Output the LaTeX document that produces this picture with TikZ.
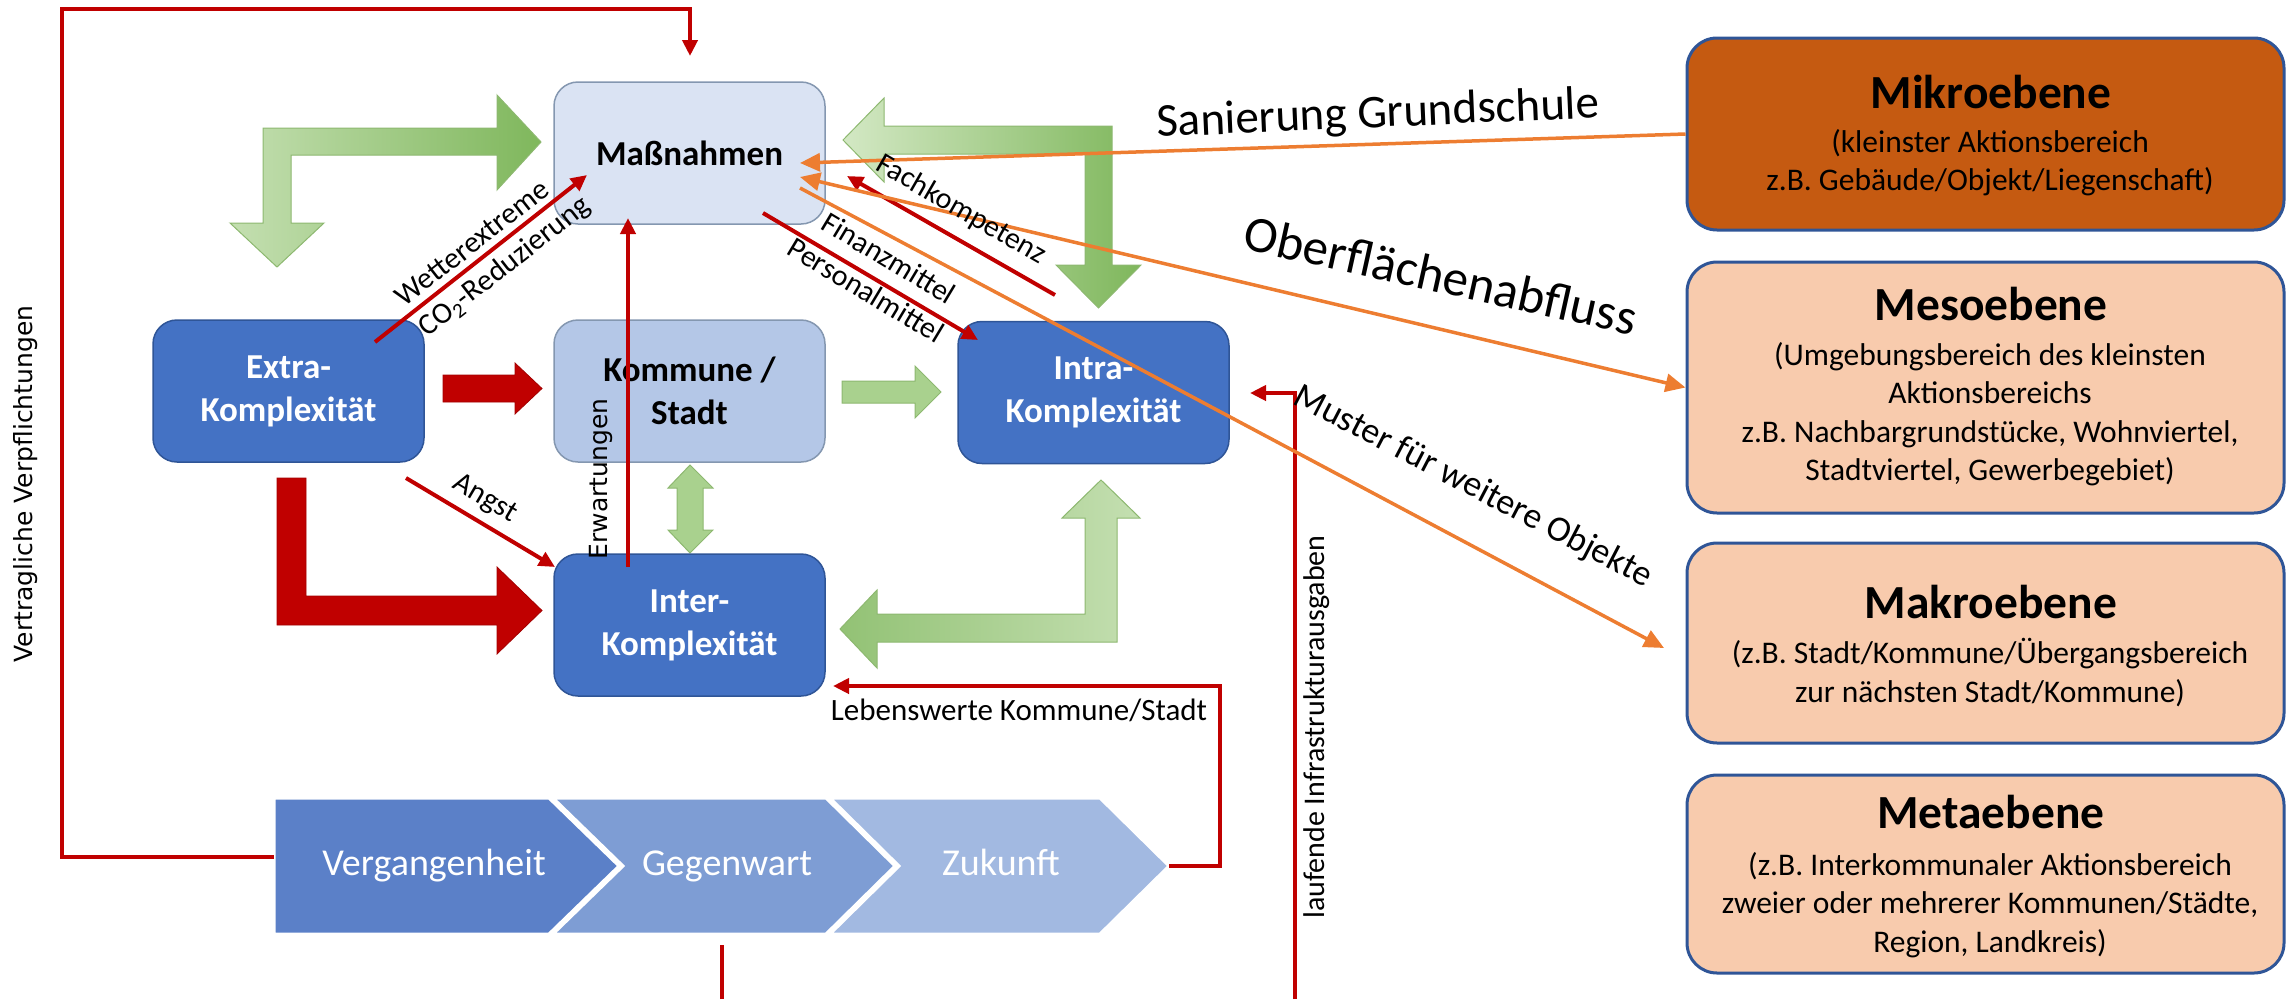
\documentclass[tikz,border=0pt]{standalone}
\usepackage{fontspec}
\setmainfont{Carlito}
\newfontfamily\dejavu{DejaVu Sans}
\usetikzlibrary{arrows.meta}
\definecolor{cred}{HTML}{C00000}
\definecolor{corange}{HTML}{ED7D31}
\definecolor{cdark}{HTML}{4472C4}
\definecolor{cdarkb}{HTML}{2F5597}
\definecolor{cmass}{HTML}{DAE3F3}
\definecolor{ckomm}{HTML}{B4C7E7}
\definecolor{cgrayb}{HTML}{8497B0}
\definecolor{cmikro}{HTML}{C55A11}
\definecolor{cpeach}{HTML}{F8CBAD}
\definecolor{gpale}{HTML}{D3E8C4}
\definecolor{glight}{HTML}{C4DFB1}
\definecolor{gmid}{HTML}{A9D18E}
\definecolor{gdark}{HTML}{7FB75C}
\definecolor{gborder}{HTML}{8DB870}
\definecolor{chevA}{HTML}{5B80C8}
\definecolor{chevB}{HTML}{7E9DD4}
\definecolor{chevC}{HTML}{A2B9E1}
\tikzset{otip/.tip={Triangle[length=20pt,width=18pt]}}
\begin{document}
\begin{tikzpicture}[x=1pt,y=-1pt,
  box/.style={rectangle, rounded corners=24pt, minimum width=271pt, minimum height=142pt,
    inner sep=0pt, align=center, font=\fontsize{35}{43}\selectfont\bfseries, line width=1.5pt},
  dbox/.style={box, fill=cdark, draw=cdarkb, text=white},
  lbox/.style={box, draw=cgrayb},
  rbox/.style={rectangle, rounded corners=30pt, minimum width=597pt, inner sep=0pt,
    draw=cdarkb, line width=3pt},
  rtitle/.style={anchor=base, font=\fontsize{47.5}{52}\selectfont\bfseries, inner sep=0pt},
  rbody/.style={anchor=base, font=\fontsize{31.5}{38}\selectfont, inner sep=0pt},
  redln/.style={draw=cred, line width=4pt, -{Triangle[length=16pt,width=15pt]}},
  redplain/.style={draw=cred, line width=4pt},
  orgln/.style={draw=corange, line width=3.5pt},
  lbl/.style={font=\fontsize{30}{36}\selectfont, inner sep=0pt},
  vlbl/.style={font=\dejavu\fontsize{25}{30}\selectfont, inner sep=0pt, rotate=90},
  garrow/.style={draw=gborder, line width=1pt},
  rarrow/.style={fill=cred, draw=cred!85!black, line width=0.8pt},
  chev/.style={draw=white, line width=3pt},
  chtext/.style={anchor=base, text=white, font=\fontsize{38}{44}\selectfont, inner sep=0pt}
]
\useasboundingbox (0,0) rectangle (2286,999);

% ---------- green block arrows ----------
\path[garrow, left color=glight, right color=gdark]
  (263,128) -- (497,128) -- (497,95) -- (541,142) -- (497,190) -- (497,155)
  -- (291,155) -- (291,223) -- (324,223) -- (277,267) -- (230,223) -- (263,223) -- cycle;
\path[garrow, left color=gpale, right color=gdark]
  (843,140) -- (884,98) -- (884,126) -- (1112,126) -- (1112,265) -- (1141,265)
  -- (1098.5,308) -- (1056,265) -- (1085,265) -- (1085,154) -- (884,154) -- (884,182) -- cycle;
\path[garrow, left color=gdark!85!white, right color=glight]
  (840,629) -- (877,590) -- (877,614) -- (1085,614) -- (1085,518) -- (1062,518)
  -- (1101,480) -- (1140,518) -- (1117,518) -- (1117,642) -- (877,642) -- (877,668) -- cycle;
\path[garrow, fill=gmid]
  (842,381) -- (915,381) -- (915,366) -- (941,392) -- (915,418) -- (915,403) -- (842,403) -- cycle;
\path[garrow, fill=gmid]
  (690,465) -- (713,488) -- (703,488) -- (703,530) -- (713,530) -- (690,553)
  -- (668,530) -- (677,530) -- (677,488) -- (668,488) -- cycle;

% ---------- red block arrows ----------
\path[rarrow] (443,375) -- (515,375) -- (515,363) -- (542,388.5) -- (515,414) -- (515,402) -- (443,402) -- cycle;
\path[rarrow] (277,478) -- (306,478) -- (306,596) -- (497,596) -- (497,567) -- (542,610.5)
  -- (497,654) -- (497,625) -- (277,625) -- cycle;

% ---------- boxes ----------
\node[lbox, fill=cmass] (mass) at (689.5,153) {Maßnahmen};
\node[lbox, fill=ckomm] (komm) at (689.5,391) {Kommune /\\Stadt};
\node[dbox] (extra) at (288.5,391) {Extra-\\Komplexität};
\node[dbox] (intra) at (1093.5,392.5) {Intra-\\Komplexität};
\node[dbox] (inter) at (689.5,625) {Inter-\\Komplexität};

\node[rbox, fill=cmikro, minimum height=192pt] (mikro) at (1985.5,134) {};
\node[rbox, fill=cpeach, minimum height=251pt] (meso) at (1985.5,387.5) {};
\node[rbox, fill=cpeach, minimum height=200pt] (makro) at (1985.5,643) {};
\node[rbox, fill=cpeach, minimum height=198pt] (meta) at (1985.5,874) {};

\node[rtitle] (mikroT) at (1991,108) {Mikroebene};
\node[rbody] (mikroA) at (1990,152) {(kleinster Aktionsbereich};
\node[rbody] (mikroB) at (1990,190) {z.B. Gebäude/Objekt/Liegenschaft)};
\node[rtitle] (mesoT) at (1991,320) {Mesoebene};
\node[rbody] (mesoA) at (1990,365) {(Umgebungsbereich des kleinsten};
\node[rbody] (mesoB) at (1990,403) {Aktionsbereichs};
\node[rbody] (mesoC) at (1990,442) {z.B. Nachbargrundstücke, Wohnviertel,};
\node[rbody] (mesoD) at (1990,480) {Stadtviertel, Gewerbegebiet)};
\node[rtitle] (makroT) at (1991,618) {Makroebene};
\node[rbody] (makroA) at (1990,663) {(z.B. Stadt/Kommune/Übergangsbereich};
\node[rbody] (makroB) at (1990,702) {zur nächsten Stadt/Kommune)};
\node[rtitle] (metaT) at (1991,828) {Metaebene};
\node[rbody] (metaA) at (1990,875) {(z.B. Interkommunaler Aktionsbereich};
\node[rbody] (metaB) at (1990,913) {zweier oder mehrerer Kommunen/Städte,};
\node[rbody] (metaC) at (1990,952) {Region, Landkreis)};

% ---------- chevrons ----------
\path[chev, fill=chevA] (274,798) -- (549,798) -- (619,866) -- (549,934) -- (274,934) -- cycle;
\path[chev, fill=chevB] (553,798) -- (826,798) -- (895,866) -- (826,934) -- (553,934) -- (623,866) -- cycle;
\path[chev, fill=chevC] (830,798) -- (1100,798) -- (1169,866) -- (1100,934) -- (830,934) -- (899,866) -- cycle;
\node[chtext] (verg) at (434,875) {Vergangenheit};
\node[chtext] (gegen) at (727,875) {Gegenwart};
\node[chtext] (zuk) at (1001,875) {Zukunft};

% ---------- coordinates ----------
\coordinate (loopS) at (274,857);
\coordinate (loopA) at (62,857);
\coordinate (loopB) at (62,9);
\coordinate (loopC) at (690,9);
\coordinate (loopE) at (690,56);
\coordinate (lebS) at (1169,866);
\coordinate (lebA) at (1220,866);
\coordinate (lebB) at (1220,686);
\coordinate (lebE) at (833,686);
\coordinate (laufS) at (1295,999);
\coordinate (laufA) at (1295,393);
\coordinate (laufE) at (1250,393);
\coordinate (stubS) at (722,999);
\coordinate (stubE) at (722,945);
\coordinate (wetS) at (375,342);
\coordinate (wetE) at (587,175);
\coordinate (erwS) at (628,567);
\coordinate (erwE) at (628,218);
\coordinate (angS) at (406,478);
\coordinate (angE) at (555,567);
\coordinate (finS) at (763,213);
\coordinate (finE) at (978,340);
\coordinate (facS) at (1055,295);
\coordinate (facE) at (847,176);
\coordinate (sanE) at (800,163);
\coordinate (obS) at (800,177);
\coordinate (muS) at (800,188);
\coordinate (muE) at (1664,648);

% ---------- red connectors ----------
\draw[redln] (loopS) -- (loopA) -- (loopB) -- (loopC) -- (loopE);
\draw[redln] (lebS) -- (lebA) -- (lebB) -- (lebE);
\draw[redln] (laufS) -- (laufA) -- (laufE);
\draw[redplain] (stubS) -- (stubE);
\draw[redln] (wetS) -- (wetE);
\draw[redln] (erwS) -- (erwE);
\draw[redln] (angS) -- (angE);
\draw[redln] (finS) -- (finE);
\draw[redln] (facS) -- (facE);

% ---------- orange connectors ----------
\draw[orgln, -{otip}] (mikro.west) -- (sanE);
\draw[orgln, {otip}-{otip}] (obS) -- (meso.west);
\draw[orgln, -{otip}] (muS) -- (muE);

% ---------- labels ----------
\node[lbl, rotate=38] (lWet) at (472,243) {Wetterextreme};
\node[lbl, rotate=38] (lCO) at (505,267) {CO\textsubscript{2}-Reduzierung};
\node[lbl, rotate=-30.5] (lAng) at (485,499) {Angst};
\node[vlbl] (lErw) at (601,479) {Erwartungen};
\node[lbl, rotate=-31] (lFin) at (889,258) {Finanzmittel};
\node[lbl, rotate=-31] (lPers) at (866,290) {Personalmittel};
\node[lbl, rotate=-30] (lFach) at (961,210) {Fachkompetenz};
\node[font=\fontsize{47}{56}\selectfont, inner sep=0pt, rotate=2.5] (lSan) at (1378,115) {Sanierung Grundschule};
\node[font=\fontsize{51}{60}\selectfont, inner sep=0pt, rotate=-12.5] (lOb) at (1441,275) {Oberflächenabfluss};
\node[font=\fontsize{36}{43}\selectfont, inner sep=0pt, rotate=-27.5] (lMu) at (1473,487) {Muster für weitere Objekte};
\node[font=\fontsize{31}{37}\selectfont, inner sep=0pt, anchor=base] (lLeb) at (1019,720) {Lebenswerte Kommune/Stadt};
\node[lbl, rotate=90] (lLauf) at (1317,727) {laufende Infrastrukturausgaben};
\node[vlbl] (lVer) at (26,484) {Vertragliche Verpflichtungen};
\end{tikzpicture}
\end{document}
